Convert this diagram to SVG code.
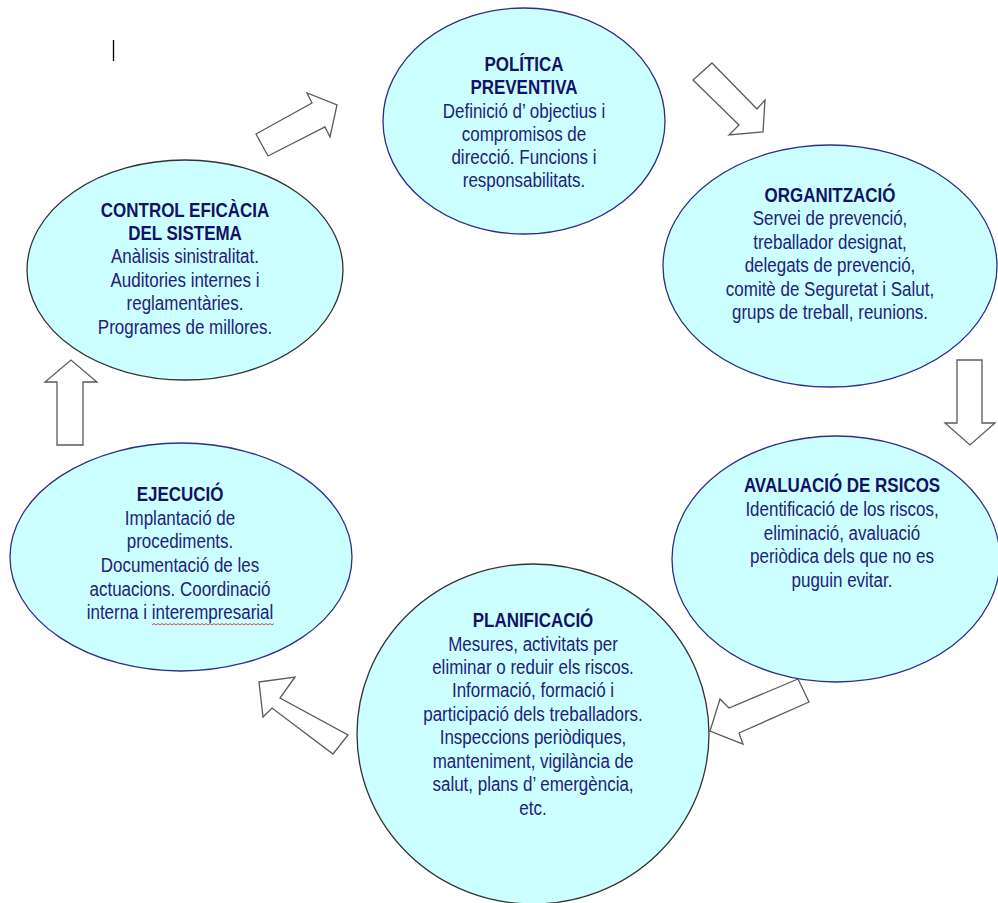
<svg xmlns="http://www.w3.org/2000/svg" width="998" height="903" viewBox="0 0 998 903">
<style>
.node{fill:#ccffff;stroke-width:1.3}
.nv{stroke:#2e2e8c}
.gr{stroke:#333333}
.arr{fill:#ffffff;stroke:#5a5a5a;stroke-width:1.3;stroke-linejoin:miter}
text{font-family:"Liberation Sans",Arial,sans-serif;font-size:19.5px;text-anchor:middle;fill:#22227a}
.h{font-weight:bold;fill:#111166}
</style>
<rect width="998" height="903" fill="#ffffff"/>
<line x1="113.5" y1="40" x2="113.5" y2="61" stroke="#000000" stroke-width="1.3"/>

<g id="connectors">
<polygon class="arr" points="256,134 312,103 307,93 337,105 330,137 325,127 268,156"/>
<polygon class="arr" points="712,63 757,109 765,100 763,132 729,135 739,125 693,80"/>
<polygon class="arr" points="957,360 982,360 982,423 995,423 970,445 945,423 957,423"/>
<polygon class="arr" points="798,679 729,708 720,699 710,731 743,744 739,733 809,702"/>
<polygon class="arr" points="259,682 295,677 280,698 348,735 333,754 272,708 263,717"/>
<polygon class="arr" points="57,445 83,445 83,382 97,382 71,360 45,382 57,382"/>
</g>

<g id="politica">
<ellipse class="node nv" cx="524" cy="121" rx="141" ry="113"/>
<g transform="translate(524 0) scale(0.87 1)">
<text class="h" x="0" y="71">POLÍTICA</text>
<text class="h" x="0" y="94">PREVENTIVA</text>
<text x="0" y="118">Definició d’ objectius i</text>
<text x="0" y="141">compromisos de</text>
<text x="0" y="164">direcció. Funcions i</text>
<text x="0" y="187">responsabilitats.</text>
</g>
</g>

<g id="organitzacio">
<ellipse class="node nv" cx="830" cy="266" rx="167" ry="121"/>
<g transform="translate(830 0) scale(0.87 1)">
<text class="h" x="0" y="202">ORGANITZACIÓ</text>
<text x="0" y="225">Servei de prevenció,</text>
<text x="0" y="249">treballador designat,</text>
<text x="0" y="272">delegats de prevenció,</text>
<text x="0" y="296">comitè de Seguretat i Salut,</text>
<text x="0" y="319">grups de treball, reunions.</text>
</g>
</g>

<g id="avaluacio">
<ellipse class="node nv" cx="836" cy="559" rx="164" ry="123"/>
<g transform="translate(842 0) scale(0.87 1)">
<text class="h" x="0" y="492">AVALUACIÓ DE RSICOS</text>
<text x="0" y="516">Identificació de los riscos,</text>
<text x="0" y="540">eliminació, avaluació</text>
<text x="0" y="563">periòdica dels que no es</text>
<text x="0" y="587">puguin evitar.</text>
</g>
</g>

<g id="planificacio">
<ellipse class="node gr" cx="533" cy="734" rx="176" ry="170"/>
<g transform="translate(533 0) scale(0.87 1)">
<text class="h" x="0" y="627">PLANIFICACIÓ</text>
<text x="0" y="651">Mesures, activitats per</text>
<text x="0" y="674">eliminar o reduir els riscos.</text>
<text x="0" y="697">Informació, formació i</text>
<text x="0" y="721">participació dels treballadors.</text>
<text x="0" y="744">Inspeccions periòdiques,</text>
<text x="0" y="768">manteniment, vigilància de</text>
<text x="0" y="791">salut, plans d’ emergència,</text>
<text x="0" y="815">etc.</text>
</g>
</g>

<g id="ejecucio">
<ellipse class="node nv" cx="181" cy="557" rx="171" ry="114"/>
<g transform="translate(180 0) scale(0.87 1)">
<text class="h" x="0" y="501">EJECUCIÓ</text>
<text x="0" y="525">Implantació de</text>
<text x="0" y="548">procediments.</text>
<text x="0" y="572">Documentació de les</text>
<text x="0" y="596">actuacions. Coordinació</text>
<text x="0" y="619">interna i interempresarial</text>
</g>
<path d="M152,625 l2,-1.5 l2,1.5 l2,-1.5 l2,1.5 l2,-1.5 l2,1.5 l2,-1.5 l2,1.5 l2,-1.5 l2,1.5 l2,-1.5 l2,1.5 l2,-1.5 l2,1.5 l2,-1.5 l2,1.5 l2,-1.5 l2,1.5 l2,-1.5 l2,1.5 l2,-1.5 l2,1.5 l2,-1.5 l2,1.5 l2,-1.5 l2,1.5 l2,-1.5 l2,1.5 l2,-1.5 l2,1.5 l2,-1.5 l2,1.5 l2,-1.5 l2,1.5 l2,-1.5 l2,1.5 l2,-1.5 l2,1.5 l2,-1.5 l2,1.5 l2,-1.5 l2,1.5 l2,-1.5 l2,1.5 l2,-1.5 l2,1.5 l2,-1.5 l2,1.5 l2,-1.5 l2,1.5 l2,-1.5 l2,1.5 l2,-1.5 l2,1.5 l2,-1.5 l2,1.5 l2,-1.5 l2,1.5 l2,-1.5 l2,1.5 l2,-1.5" fill="none" stroke="#e03030" stroke-width="0.9"/>
</g>

<g id="control">
<ellipse class="node gr" cx="185" cy="270" rx="158" ry="110"/>
<g transform="translate(185 0) scale(0.87 1)">
<text class="h" x="0" y="217">CONTROL EFICÀCIA</text>
<text class="h" x="0" y="240">DEL SISTEMA</text>
<text x="0" y="263">Anàlisis sinistralitat.</text>
<text x="0" y="287">Auditories internes i</text>
<text x="0" y="310">reglamentàries.</text>
<text x="0" y="334">Programes de millores.</text>
</g>
</g>
</svg>
